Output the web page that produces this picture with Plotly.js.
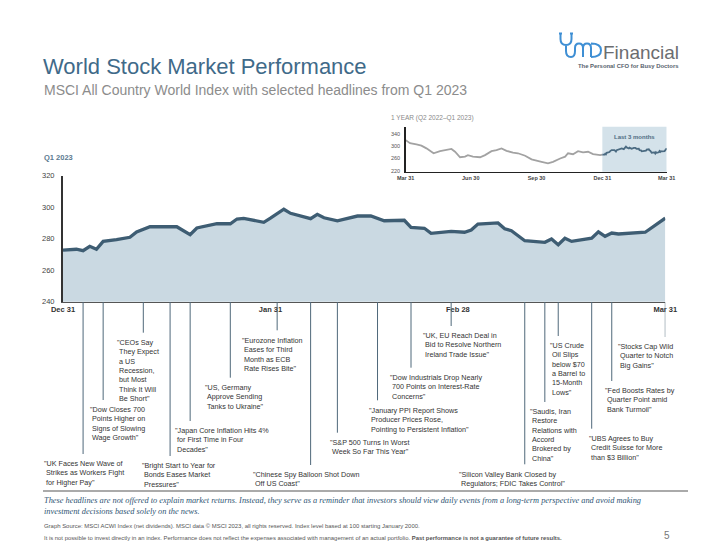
<!DOCTYPE html>
<html>
<head>
<meta charset="utf-8">
<script src="https://cdn.plot.ly/plotly-3.0.1.min.js"></script>
<style>
html,body{margin:0;padding:0;background:#fff;}
#chart{width:720px;height:556px;}
</style>
</head>
<body>
<div id="chart"></div>
<script>
// ---------------- DATA ----------------
// Q1 2023 MSCI ACWI index level (main chart)
const q1Dates = ['2022-12-31','2023-01-02','2023-01-03','2023-01-04','2023-01-05','2023-01-06','2023-01-08','2023-01-10','2023-01-11','2023-01-13',
  '2023-01-17','2023-01-19','2023-01-20','2023-01-23','2023-01-25','2023-01-26','2023-01-27','2023-01-30','2023-01-31','2023-02-01',
  '2023-02-02','2023-02-03','2023-02-06','2023-02-07','2023-02-08','2023-02-10','2023-02-13','2023-02-15','2023-02-17','2023-02-20',
  '2023-02-21','2023-02-23','2023-02-24','2023-02-27','2023-03-01','2023-03-02','2023-03-03','2023-03-06','2023-03-07','2023-03-08',
  '2023-03-10','2023-03-13','2023-03-14','2023-03-15','2023-03-16','2023-03-17','2023-03-20','2023-03-21','2023-03-22','2023-03-23',
  '2023-03-24','2023-03-28','2023-03-29','2023-03-31'];
const q1Values = [272.8,273.3,272.4,275.2,273.3,278.3,279.4,280.9,284.3,287.6,
  287.6,282.5,286.8,289.5,289.5,292.5,292.9,290.4,293.0,295.6,
  298.7,296.1,292.7,295.5,293.3,291.4,294.4,294.4,291.4,291.7,
  287.2,286.6,283.4,284.7,284.1,285.5,289.3,290.0,286.3,285.1,
  278.7,277.7,279.8,276.2,280.3,278.3,280.3,284.4,281.5,283.6,
  283.0,284.1,287.0,293.0];

// Prior 9 months (inset, grey part)
const yearDates = ['2022-03-31','2022-04-06','2022-04-15','2022-04-22','2022-04-29','2022-05-09','2022-05-18','2022-05-25','2022-06-03','2022-06-08',
  '2022-06-15','2022-06-22','2022-06-26','2022-07-03','2022-07-13','2022-07-20','2022-07-29','2022-08-05','2022-08-12','2022-08-19',
  '2022-08-28','2022-09-04','2022-09-14','2022-09-23','2022-09-30','2022-10-07','2022-10-16','2022-10-23','2022-11-02','2022-11-09',
  '2022-11-13','2022-11-20','2022-11-27','2022-12-04','2022-12-11','2022-12-18','2022-12-28','2022-12-31'];
const yearValues = [320,310,306,302,293,277,284,288,291,282,
  264,266,271,266,264,271,284,287,293,285,
  279,277,269,257,252,249,244,249,260,266,
  277,274,284,280,282,274,271,272.8];

const recentStart = '2022-12-31', recentEnd = '2023-03-31';

const mainTickVals = ['2022-12-31','2023-01-31','2023-02-28','2023-03-31'];
const mainTickText = ['Dec 31','Jan 31','Feb 28','Mar 31'];
const mainYTicks = [240,260,280,300,320];
const insetTickVals = ['2022-03-31','2022-06-30','2022-09-30','2022-12-31','2023-03-31'];
const insetTickText = ['Mar 31','Jun 30','Sep 30','Dec 31','Mar 31'];
const insetYTicks = [220,260,300,340];

const eventDates = ['2023-01-03','2023-01-06','2023-01-12','2023-01-16','2023-01-19','2023-01-25','2023-02-01','2023-02-06','2023-02-10',
  '2023-02-16','2023-02-21','2023-02-27','2023-03-10','2023-03-13','2023-03-15','2023-03-20','2023-03-23','2023-03-31'];
const eventHeadlines = [
  ['"UK Faces New Wave of','Strikes as Workers Fight','for Higher Pay"'],
  ['"Dow Closes 700','Points Higher on','Signs of Slowing','Wage Growth"'],
  ['"CEOs Say','They Expect','a US','Recession,','but Most','Think It Will','Be Short"'],
  ['"Bright Start to Year for','Bonds Eases Market','Pressures"'],
  ['"Japan Core Inflation Hits 4%','for First Time in Four','Decades"'],
  ['"US, Germany','Approve Sending','Tanks to Ukraine"'],
  ['"Eurozone Inflation','Eases for Third','Month as ECB','Rate Rises Bite"'],
  ['"Chinese Spy Balloon Shot Down','Off US Coast"'],
  ['"S&P 500 Turns In Worst','Week So Far This Year"'],
  ['"January PPI Report Shows','Producer Prices Rose,','Pointing to Persistent Inflation"'],
  ['"Dow Industrials Drop Nearly','700 Points on Interest-Rate','Concerns"'],
  ['"UK, EU Reach Deal in','Bid to Resolve Northern','Ireland Trade Issue"'],
  ['"Silicon Valley Bank Closed by','Regulators; FDIC Takes Control"'],
  ['"Saudis, Iran','Restore','Relations with','Accord','Brokered by','China"'],
  ['"US Crude','Oil Slips','below $70','a Barrel to','15-Month','Lows"'],
  ['"UBS Agrees to Buy','Credit Suisse for More','than $3 Billion"'],
  ['"Fed Boosts Rates by','Quarter Point amid','Bank Turmoil"'],
  ['"Stocks Cap Wild','Quarter to Notch','Big Gains"']
];

// ---------------- LAYOUT (positions in page pixels) ----------------
const W = 720, H = 556;
const px = x => x / W;
const py = y => 1 - y / H;
const labelPos = [[43,463],[89,409],[116,341.7],[140.5,465],[174,430],[204,386.7],[240.7,339.3],[252,474],[329.3,441.7],
  [368.3,409.3],[389.3,376.7],[422.3,335],[458,473.3],[529.3,411],[549,345],[588.3,437.7],[604,390],[617.3,346]];

const SANS = 'Liberation Sans, Arial, sans-serif';
const HL_SIZE = 7.2;
const slate = '#3e5d73';

const annotations = [];
const shapes = [];

function ann(text, x, y, o) {
  annotations.push(Object.assign({
    text: text, x: px(x), y: py(y), xref: 'paper', yref: 'paper',
    xanchor: 'left', yanchor: 'middle', showarrow: false, borderpad: 0,
    align: 'left', font: {family: SANS, size: 8, color: '#333'}
  }, o || {}));
}

// headlines + connector lines
eventHeadlines.forEach((lines, i) => {
  const [lx, ly] = labelPos[i];
  const txt = lines.map((l, k) => k === 0 ? l : '\u00a0' + l).join('<br>');
  ann(txt, lx, ly - 0.65 * HL_SIZE, {yanchor: 'top', font: {family: SANS, size: HL_SIZE, color: '#333'}});
  shapes.push({type: 'line', xref: 'x', yref: 'paper', x0: eventDates[i], x1: eventDates[i],
    y0: py(302), y1: py(ly - 9), line: {color: '#4f687a', width: 1}, layer: 'above'});
});

// Titles
ann('MSCI All Country World Index with selected headlines from Q1 2023', 43, 89.5, {font: {family: SANS, size: 14, color: '#8c8c8c'}});
ann('Q1 2023', 43, 157.7, {font: {family: SANS, size: 7.5, color: '#5b7a90', weight: 'bold'}});
ann('1 YEAR (Q2 2022\u2013Q1 2023)', 389.5, 117.5, {font: {family: SANS, size: 6.5, color: '#8a8a8a'}});
ann('Last 3 months', 634.5, 137.3, {xanchor: 'center', font: {family: SANS, size: 6, color: '#4f6d83', weight: 'bold'}});

// Logo
ann('Financial', 602, 52.5, {font: {family: SANS, size: 19, color: '#6b6d70'}});
ann('The Personal CFO for Busy Doctors', 577, 65.8, {font: {family: SANS, size: 5.9, color: '#56616b', weight: 'bold'}});
function pth(pts) { return pts.map(p => (typeof p === 'string') ? p : (px(p[0]) + ',' + py(p[1]))).join(' '); }
shapes.push({type: 'path', xref: 'paper', yref: 'paper', line: {color: '#3f8fd4', width: 2},
  path: pth(['M', [560.5, 33.5], 'L', [560.5, 39], 'Q', [560.5, 45], [566, 45], 'Q', [571.5, 45], [571.5, 39], 'L', [571.5, 33.5],
    'M', [566, 45], 'L', [566, 51], 'Q', [566, 57], [571, 57], 'Q', [575, 57], [575, 51], 'L', [575, 48],
    'Q', [575, 43.5], [579, 43.5], 'Q', [583, 43.5], [583, 48], 'L', [583, 57],
    'M', [583, 48], 'Q', [583, 43.5], [587, 43.5], 'Q', [591, 43.5], [591, 48], 'L', [591, 57],
    'M', [591, 43.5], 'Q', [601, 43.5], [601, 50.2], 'Q', [601, 57], [591, 57]])});
shapes.push({type: 'path', xref: 'paper', yref: 'paper', line: {color: '#3f8fd4', width: 2},
  path: pth(['M', [559, 33.5], 'L', [562, 33.5], 'M', [570, 33.5], 'L', [573, 33.5]])});

// Inset shading
shapes.push({type: 'rect', xref: 'x2', yref: 'y2 domain', x0: recentStart, x1: recentEnd, y0: 0, y1: 1,
  fillcolor: '#d4e2ea', line: {width: 0}, layer: 'below'});

// Footer
shapes.push({type: 'line', xref: 'paper', yref: 'paper', x0: px(43), x1: px(688), y0: py(491), y1: py(491),
  line: {color: '#8e8e8e', width: 1.5}});
const DISC = 8.35;
ann('These headlines are not offered to explain market returns. Instead, they serve as a reminder that investors should view daily events from a long-term perspective and avoid making<br>investment decisions based solely on the news.',
  43, 500.5 - 0.65 * DISC, {yanchor: 'top', font: {family: 'Liberation Serif, Times New Roman, serif', size: DISC, color: '#2f5574', style: 'italic'}});
ann('Graph Source: MSCI ACWI Index (net dividends). MSCI data \u00a9 MSCI 2023, all rights reserved. Index level based at 100 starting January 2000.',
  43, 526, {font: {family: SANS, size: 5.95, color: '#555'}});
ann('It is not possible to invest directly in an index. Performance does not reflect the expenses associated with management of an actual portfolio. <b>Past performance is not a guarantee of future results.</b>',
  43, 538, {font: {family: SANS, size: 5.9, color: '#555'}});
ann('5', 663, 535, {font: {family: SANS, size: 10, color: '#777'}});

// ---------------- TRACES ----------------
const traces = [
  {x: q1Dates, y: q1Values, type: 'scatter', mode: 'lines', fill: 'tozeroy', fillcolor: '#cad9e2',
    line: {color: slate, width: 3.3, shape: 'linear'}, xaxis: 'x', yaxis: 'y', hoverinfo: 'skip'},
  {x: yearDates, y: yearValues, type: 'scatter', mode: 'lines', line: {color: '#a2a2a2', width: 1.8},
    xaxis: 'x2', yaxis: 'y2', hoverinfo: 'skip'},
  {x: q1Dates, y: q1Values, type: 'scatter', mode: 'lines', line: {color: '#4b6b82', width: 1.8},
    xaxis: 'x2', yaxis: 'y2', hoverinfo: 'skip'}
];

const layout = {
  width: W, height: H, margin: {l: 0, r: 0, t: 0, b: 0},
  paper_bgcolor: '#fff', plot_bgcolor: 'rgba(0,0,0,0)', showlegend: false,
  title: {text: 'World Stock Market Performance', x: px(43), xanchor: 'left', xref: 'paper',
    y: py(66), yanchor: 'middle', yref: 'paper', font: {family: SANS, size: 22, color: '#3f6a89'}},
  xaxis: {domain: [px(63), px(665.3)], anchor: 'y', type: 'date', range: ['2022-12-31', '2023-03-31'],
    showgrid: false, zeroline: false, showline: true, linecolor: '#555', linewidth: 1.5,
    tickvals: mainTickVals, ticktext: mainTickText, ticks: '',
    tickfont: {family: SANS, size: 7.5, color: '#333', weight: 'bold'}},
  yaxis: {domain: [py(301.7), py(175.7)], anchor: 'x', range: [240, 320], showgrid: false, zeroline: false,
    showline: true, linecolor: '#333', linewidth: 2, tickvals: mainYTicks, ticks: '', ticklabelstandoff: 5,
    tickfont: {family: SANS, size: 7.5, color: '#444'}},
  xaxis2: {domain: [px(405.7), px(666.7)], anchor: 'y2', type: 'date', range: ['2022-03-31', '2023-03-31'],
    showgrid: false, zeroline: false, showline: true, linecolor: '#222', linewidth: 1.5,
    tickvals: insetTickVals, ticktext: insetTickText, ticks: '',
    tickfont: {family: SANS, size: 5.5, color: '#444', weight: 'bold'}},
  yaxis2: {domain: [py(171.7), py(126.7)], anchor: 'x2', range: [216.7, 363.9], showgrid: false, zeroline: false,
    showline: true, linecolor: '#222', linewidth: 1.5, tickvals: insetYTicks, ticks: '', ticklabelstandoff: 3,
    tickfont: {family: SANS, size: 5.5, color: '#555'}},
  annotations: annotations,
  shapes: shapes
};

Plotly.newPlot('chart', traces, layout, {staticPlot: true, displayModeBar: false});
</script>
</body>
</html>
